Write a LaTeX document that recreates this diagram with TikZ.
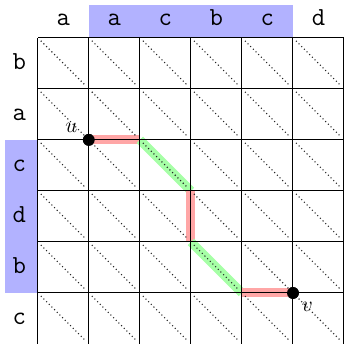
\documentclass[tikz,border=0pt]{standalone}
\begin{document}
\begin{tikzpicture}[x=1cm,y=-1cm,
  hdr/.style={fill=blue!30},
  lbl/.style={font=\ttfamily\fontsize{14.5}{17}\selectfont,inner sep=0pt},
  gridline/.style={line width=0.55pt,black},
  diag/.style={line width=0.6pt,black!85,dash pattern=on 0.6pt off 1.5pt},
  redhl/.style={line width=5pt,red!35},
  greenhl/.style={line width=5pt,green!35},
  dotnode/.style={circle,fill=black,inner sep=0pt,minimum size=6.6pt},
  ptlabel/.style={font=\fontsize{13}{16}\selectfont,inner sep=0pt}]
\useasboundingbox (-0.74,-0.74) rectangle (6,6);
% header bands
\fill[hdr] (1,-0.64) rectangle (5,0);
\fill[hdr] (-0.64,2) rectangle (0,5);
% column labels
\foreach \t [count=\i] in {a,a,c,b,c,d}
  \node[lbl] (col\i) at (\i-0.5,-0.36) {\strut\t};
% row labels
\foreach \t [count=\j] in {b,a,c,d,b,c}
  \node[lbl] (row\j) at (-0.36,\j-0.5) {\strut\t};
% path highlights
\coordinate (p1) at (2,2);
\coordinate (p2) at (3,3);
\coordinate (p3) at (3,4);
\coordinate (p4) at (4,5);
\node[dotnode] (u) at (1,2) {};
\node[dotnode] (v) at (5,5) {};
\draw[redhl] (u.center) -- (p1);
\draw[greenhl] (p1) -- (p2);
\draw[redhl] (p2) -- (p3);
\draw[greenhl] (p3) -- (p4);
\draw[redhl] (p4) -- (v.center);
% diagonals
\foreach \i in {0,...,5}
  \foreach \j in {0,...,5}
    \draw[diag] (\i+0.06,\j+0.06) -- (\i+0.94,\j+0.94);
% grid
\draw[gridline] (0,0) grid (6,6);
% dots on top
\fill (u) circle (3.3pt);
\fill (v) circle (3.3pt);
\node[ptlabel] (ulbl) at (0.66,1.77) {$u$};
\node[ptlabel] (vlbl) at (5.28,5.27) {$v$};
\end{tikzpicture}
\end{document}
